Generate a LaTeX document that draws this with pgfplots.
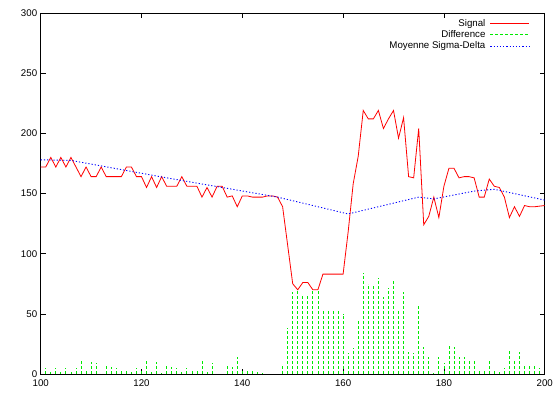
\documentclass[border=0pt]{standalone}
\usepackage{fontspec}
\setmainfont{Liberation Sans}
\usepackage{pgfplots}
\pgfplotsset{compat=1.18}
\definecolor{gpred}{RGB}{255,0,0}
\definecolor{gpgreen}{RGB}{0,235,0}
\definecolor{gpblue}{RGB}{0,0,255}
\pgfplotsset{mylegend/.style={legend image code/.code={\draw[##1] (0pt,0pt) -- (39pt,0pt);}}}
\begin{document}
\begin{tikzpicture}
\useasboundingbox (-40.7pt,-19pt) rectangle (514.3pt,374pt);
\begin{axis}[
  at={(0,0)}, anchor=south west,
  scale only axis, width=504pt, height=361pt,
  xmin=100, xmax=200, ymin=0, ymax=300,
  xtick={100,120,...,200}, ytick={0,50,...,300},
  tick align=inside,
  major tick length=5pt,
  axis line style={line width=0.8pt},
  tick style={line width=0.6pt, black},
  tick label style={font=\fontsize{9.7}{11.6}\selectfont},
  xticklabel style={yshift=-2.5pt},
  /pgf/number format/assume math mode=true,
  legend plot pos=right,
  legend cell align=right,
  mylegend,
  legend style={draw=none, fill=none, inner sep=0pt, row sep=0pt, column sep=3.5pt,
    at={(rel axis cs:1,1)}, anchor=north east, xshift=-14.7pt, yshift=-4.6pt,
    font=\fontsize{9.7}{11.6}\selectfont,
    nodes={inner xsep=1pt, inner ysep=1pt, text height=7.3pt, text depth=2pt}},
]
\addplot[gpred, line width=0.8pt] table {
100 172
101 172
102 180
103 172
104 180
105 172
106 180
107 172
108 164
109 172
110 164
111 164
112 172
113 164
114 164
115 164
116 164
117 172
118 172
119 164
120 164
121 155
122 164
123 155
124 164
125 156
126 156
127 156
128 164
129 156
130 156
131 156
132 147
133 155
134 147
135 156
136 156
137 147
138 148
139 139
140 148
141 148
142 147
143 147
144 147
145 148
146 148
147 147
148 139
149 107
150 75
151 70
152 76
153 76
154 70
155 70
156 83
157 83
158 83
159 83
160 83
161 118
162 158
163 181
164 219
165 212
166 212
167 219
168 204
169 212
170 219
171 196
172 213
173 164
174 163
175 204
176 124
177 131
178 147
179 130
180 156
181 171
182 171
183 163
184 164
185 164
186 163
187 147
188 147
189 162
190 156
191 155
192 147
193 130
194 139
195 131
196 140
197 139
198 139
199 139.5
200 140
};
\addlegendentry{Signal}
\addplot[ycomb, gpgreen, line width=0.8pt, dash pattern=on 3pt off 2pt, mylegend] table {
101 5
102 2
103 5
104 2
105 5
106 2
107 5
108 11.5
109 3
110 10
111 9
113 6.5
114 6
115 5
116 2.5
117 2.5
118 1.7
119 5
120 4
121 11.5
122 2
123 10
124 0.5
125 6.5
126 6
127 5
128 2
129 5
130 2.5
131 2.5
132 10.5
133 1.7
134 9
137 7.5
138 6
139 14
140 3
141 2.5
142 2.5
143 1.7
144 1
148 6.6
149 38
150 68.4
151 69.8
152 65
153 64.6
154 69
155 69
156 53.7
157 53
158 53
159 52
160 50
161 17.7
162 22
163 45
164 83.7
165 74.8
166 73.2
167 80
168 64.3
169 71.2
170 77.3
171 53
172 68.4
173 18.3
174 17.2
175 57.3
176 22.2
177 14.4
178 0.5
179 14.4
180 8.9
181 24.1
182 22.7
183 14.4
184 14.4
185 11.1
186 10.5
187 2.8
188 2.8
189 11.6
190 2.8
191 1.7
192 5.3
193 20
194 10.8
195 18.3
196 7.2
197 7.2
198 6.6
199 5.3
};
\addlegendentry{Difference}
\addplot[gpblue, line width=0.9pt, dash pattern=on 1.2pt off 2pt] table {
100 178
106 177.5
125 163
147 147
161 133
175 147
178 145.5
186 152
190 153.5
200 144.5
};
\addlegendentry{Moyenne Sigma-Delta}
\end{axis}
\end{tikzpicture}
\end{document}
